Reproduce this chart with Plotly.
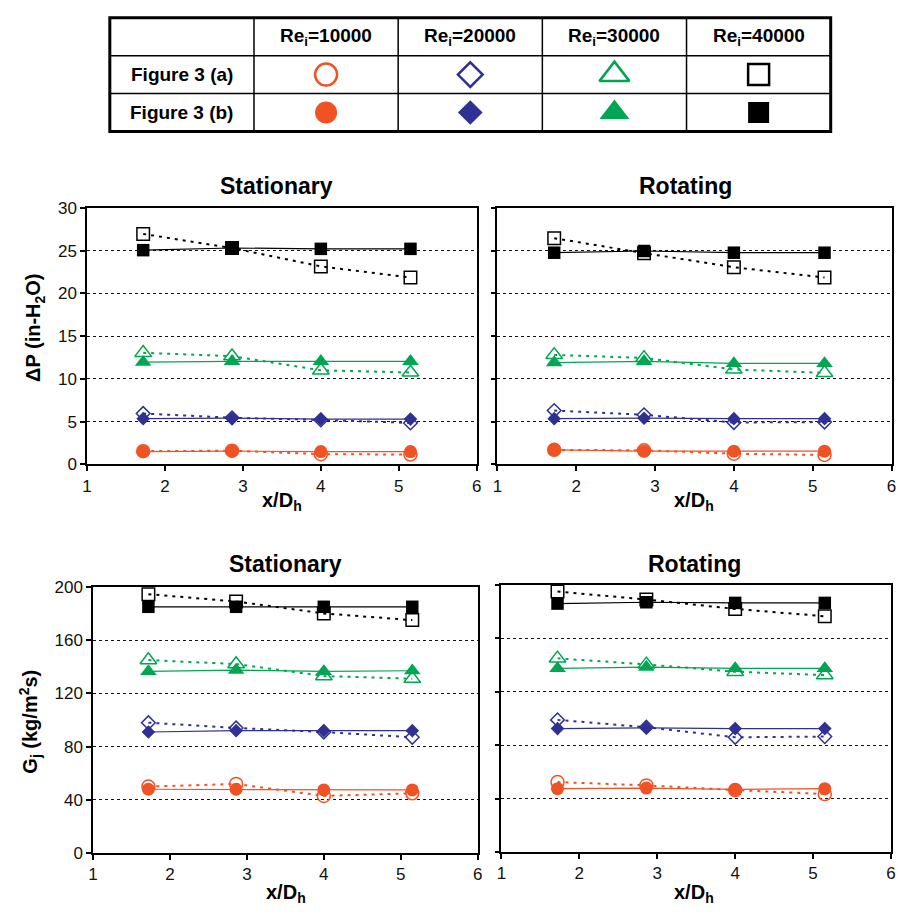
import plotly.graph_objects as go

W, H = 898, 920

# ---------------- data ----------------
x_dh = [1.72, 2.86, 4.00, 5.15]
re_values = [10000, 20000, 30000, 40000]
re_labels = ["Re<sub>i</sub>=10000", "Re<sub>i</sub>=20000", "Re<sub>i</sub>=30000", "Re<sub>i</sub>=40000"]
row_labels = ["Figure 3 (a)", "Figure 3 (b)"]
colors = ["#F05223", "#2E3192", "#00A651", "#000000"]
symbols = ["circle", "diamond", "triangle-up", "square"]

# Delta P (in-H2O), stationary, open (a) / filled (b), one list per Re
dp_stat_a = [[1.55, 1.60, 1.20, 1.15], [5.95, 5.45, 5.20, 4.85], [13.05, 12.65, 11.00, 10.75], [26.95, 25.30, 23.15, 21.85]]
dp_stat_b = [[1.50, 1.55, 1.50, 1.50], [5.35, 5.40, 5.30, 5.30], [11.95, 12.05, 12.05, 12.05], [25.05, 25.30, 25.20, 25.20]]
# Delta P (in-H2O), rotating
dp_rot_a = [[1.70, 1.65, 1.25, 1.10], [6.30, 5.80, 4.90, 4.95], [12.80, 12.45, 11.10, 10.70], [26.45, 24.70, 23.05, 21.85]]
dp_rot_b = [[1.70, 1.55, 1.55, 1.55], [5.35, 5.40, 5.35, 5.35], [11.90, 12.05, 11.80, 11.80], [24.75, 24.95, 24.75, 24.75]]
# Gj (kg/m2s), stationary
gj_stat_a = [[50.0, 52.0, 43.0, 45.0], [98.0, 94.0, 91.0, 87.0], [145.0, 142.0, 133.0, 131.0], [194.5, 189.0, 180.0, 175.0]]
gj_stat_b = [[48.0, 48.0, 47.5, 47.5], [91.0, 92.0, 92.0, 92.0], [136.5, 137.5, 136.5, 137.0], [185.0, 185.0, 185.0, 185.0]]
# Gj (kg/m2s), rotating
gj_rot_a = [[52.5, 50.0, 46.5, 43.5], [99.0, 93.5, 86.0, 86.5], [145.0, 140.5, 135.0, 132.5], [195.0, 189.0, 182.0, 176.5]]
gj_rot_b = [[47.5, 48.0, 47.0, 47.5], [92.5, 93.0, 92.5, 92.5], [137.5, 138.5, 137.5, 137.5], [186.0, 187.0, 186.5, 186.5]]

# ---------------- helpers ----------------
def px(x):
    return x / W

def py(y):
    return 1 - y / H

FONT = "Liberation Sans, Arial, Helvetica, sans-serif"

fig = go.Figure()

panels = [
    ("x", "y", dp_stat_a, dp_stat_b),
    ("x2", "y2", dp_rot_a, dp_rot_b),
    ("x3", "y3", gj_stat_a, gj_stat_b),
    ("x4", "y4", gj_rot_a, gj_rot_b),
]
plot_sizes = {"circle": 13, "diamond": 10.5, "triangle-up": 14.5, "square": 12.5}

for xa, ya, open_vals, fill_vals in panels:
    for i in range(4):
        fig.add_trace(go.Scatter(
            x=x_dh, y=open_vals[i], xaxis=xa, yaxis=ya, mode="lines+markers",
            line=dict(color=colors[i], width=2, dash="3px,5px"),
            marker=dict(symbol=symbols[i] + "-open", size=plot_sizes[symbols[i]],
                        color=colors[i], line=dict(color=colors[i], width=1.5)),
            showlegend=False, cliponaxis=False))
        fig.add_trace(go.Scatter(
            x=x_dh, y=fill_vals[i], xaxis=xa, yaxis=ya, mode="lines+markers",
            line=dict(color=colors[i], width=1.2),
            marker=dict(symbol=symbols[i], size=plot_sizes[symbols[i]],
                        color=colors[i], line=dict(width=0)),
            showlegend=False, cliponaxis=False))

# ---------------- table (legend) ----------------
t_left, t_right, t_top, t_bot = 106, 835, 9, 125
table_sizes = {"circle": 22, "diamond": 19, "triangle-up": 26, "square": 21}
for i in range(4):
    # row (a): open symbols
    fig.add_trace(go.Scatter(
        x=[i + 1.5], y=[1.5], xaxis="x5", yaxis="y5", mode="markers",
        marker=dict(symbol=symbols[i] + "-open", size=table_sizes[symbols[i]],
                    color=colors[i], line=dict(color=colors[i], width=2.5)),
        showlegend=False, cliponaxis=False, hoverinfo="skip"))
    # row (b): filled symbols
    fig.add_trace(go.Scatter(
        x=[i + 1.5], y=[0.5], xaxis="x5", yaxis="y5", mode="markers",
        marker=dict(symbol=symbols[i], size=table_sizes[symbols[i]],
                    color=colors[i], line=dict(width=0)),
        showlegend=False, cliponaxis=False, hoverinfo="skip"))

shapes = []
# outer border
shapes.append(dict(type="rect", xref="paper", yref="paper",
                   x0=px(t_left), x1=px(t_right), y0=py(t_bot), y1=py(t_top),
                   line=dict(color="black", width=3)))
cw = (t_right - t_left) / 5
rh = (t_bot - t_top) / 3
for c in range(1, 5):
    xx = t_left + c * cw
    shapes.append(dict(type="line", xref="paper", yref="paper",
                       x0=px(xx), x1=px(xx), y0=py(t_bot), y1=py(t_top),
                       line=dict(color="black", width=1.5)))
for r in range(1, 3):
    yy = t_top + r * rh
    shapes.append(dict(type="line", xref="paper", yref="paper",
                       x0=px(t_left), x1=px(t_right), y0=py(yy), y1=py(yy),
                       line=dict(color="black", width=1.5)))

annotations = []
for c, lab in enumerate(re_labels):
    annotations.append(dict(x=c + 1.5, y=2.5, xref="x5", yref="y5", text="<b>" + lab + "</b>",
                            showarrow=False, font=dict(family=FONT, size=19, color="black"),
                            xanchor="center", yanchor="middle"))
for r, lab in enumerate(row_labels):
    annotations.append(dict(x=0.5, y=1.5 - r, xref="x5", yref="y5", text="<b>" + lab + "</b>",
                            showarrow=False, font=dict(family=FONT, size=19, color="black"),
                            xanchor="center", yanchor="middle"))

# ---------------- titles and axis labels ----------------
def add_text(x, y, text, size, angle=0):
    annotations.append(dict(x=px(x), y=py(y), xref="paper", yref="paper", text=text,
                            showarrow=False, textangle=angle,
                            font=dict(family=FONT, size=size, color="black"),
                            xanchor="center", yanchor="middle"))

add_text(275, 181, "<b>Stationary</b>", 23)
add_text(688, 181, "<b>Rotating</b>", 23)
add_text(284, 567, "<b>Stationary</b>", 23)
add_text(697, 567, "<b>Rotating</b>", 23)
add_text(280, 503, "<b>x/D<sub>h</sub></b>", 20)
add_text(697, 503, "<b>x/D<sub>h</sub></b>", 20)
add_text(284, 903, "<b>x/D<sub>h</sub></b>", 20)
add_text(697, 903, "<b>x/D<sub>h</sub></b>", 20)
add_text(30, 326, "<b>ΔP (in-H<sub>2</sub>O)</b>", 20, angle=-90)
add_text(26, 728, "<b>G<sub>j</sub> (kg/m<sup>2</sup>s)</b>", 20, angle=-90)

# ---------------- axes ----------------
tickfont = dict(family=FONT, size=17, color="#111")

def xax(d0, d1, anchor):
    return dict(domain=[px(d0), px(d1)], range=[1, 6], dtick=1, tick0=1,
                ticks="outside", ticklen=5, tickwidth=1.5, tickcolor="black",
                showline=True, linecolor="black", linewidth=1.5, mirror=True,
                showgrid=False, zeroline=False, tickfont=tickfont, anchor=anchor,
                fixedrange=True)

def yax(top, bot, rng, dt, anchor, labels):
    return dict(domain=[py(bot), py(top)], range=rng, dtick=dt, tick0=0,
                ticks="outside", ticklen=5, tickwidth=1.5, tickcolor="black",
                showline=True, linecolor="black", linewidth=1.5, mirror=True,
                showgrid=True, gridcolor="#111", gridwidth=1, griddash="dot",
                zeroline=False, tickfont=tickfont, anchor=anchor,
                showticklabels=labels, fixedrange=True)

fig.update_layout(
    width=W, height=H,
    margin=dict(l=0, r=0, t=0, b=0),
    paper_bgcolor="white", plot_bgcolor="white",
    showlegend=False,
    xaxis=xax(83, 477, "y"),
    yaxis=yax(203, 465, [0, 30], 5, "x", True),
    xaxis2=xax(498, 896.5, "y2"),
    yaxis2=yax(203, 465, [0, 30], 5, "x2", False),
    xaxis3=xax(89, 478, "y3"),
    yaxis3=yax(590, 862, [0, 200], 40, "x3", True),
    xaxis4=xax(502, 896, "y4"),
    yaxis4=yax(588, 861, [0, 200], 40, "x4", False),
    xaxis5=dict(domain=[px(t_left), px(t_right)], range=[0, 5], visible=False, anchor="y5", fixedrange=True),
    yaxis5=dict(domain=[py(t_bot), py(t_top)], range=[0, 3], visible=False, anchor="x5", fixedrange=True),
    shapes=shapes,
    annotations=annotations,
)

fig.write_html("out.html")
